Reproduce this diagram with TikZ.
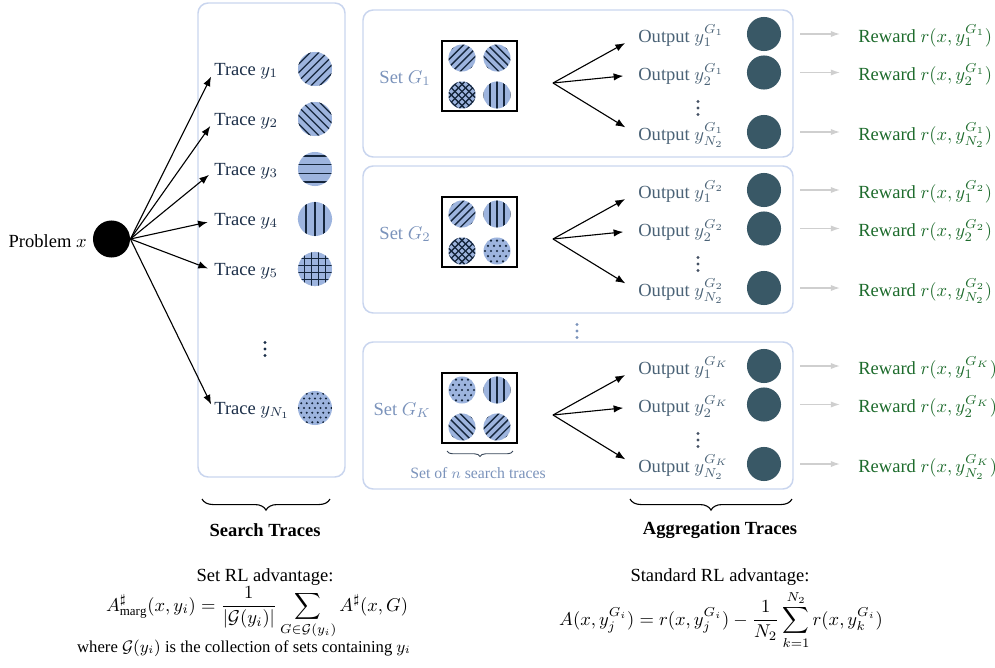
\documentclass[tikz,border=0pt]{standalone}
\usepackage{amsmath}
\usepackage{fontspec}
\setmainfont{Liberation Serif}
\usetikzlibrary{arrows.meta,decorations.pathreplacing}
\definecolor{boxc}{HTML}{C9D5EE}
\definecolor{tfill}{HTML}{9DB4DE}
\definecolor{pcol}{HTML}{15263C}
\definecolor{tracec}{HTML}{1B2E48}
\definecolor{outc}{HTML}{4A6276}
\definecolor{ocirc}{HTML}{395866}
\definecolor{setc}{HTML}{7B93BB}
\definecolor{rewc}{HTML}{1D6B2C}
\definecolor{grayarr}{HTML}{CFCFCF}
\newcommand\patlines[3]{% angle, spacing, offset
  \foreach \k in {-5,...,5}{\pgfmathsetmacro\dd{(\k+#3)*#2}%
    \draw[patl] ({-\dd*sin(#1)-40*cos(#1)},{\dd*cos(#1)-40*sin(#1)}) -- ({-\dd*sin(#1)+40*cos(#1)},{\dd*cos(#1)+40*sin(#1)});}}
\tikzset{
  box/.style={draw=boxc, line width=0.8pt, rounded corners=5.5pt},
  tc/.style={circle, fill=tfill, minimum size=18.4pt, inner sep=0pt},
  sc/.style={circle, fill=tfill, minimum size=14.6pt, inner sep=0pt},
  oc/.style={circle, fill=ocirc, minimum size=18.4pt, inner sep=0pt},
  sq/.style={draw=black, line width=0.7pt, minimum width=40.5pt, minimum height=37.8pt, inner sep=0pt},
  patl/.style={draw=pcol, line width=0.7pt},
  arr/.style={-{Latex[length=5.2pt,width=4pt]}, line width=0.6pt},
  garr/.style={draw=grayarr, -{Latex[length=5pt,width=3.4pt]}, line width=0.7pt, shorten <=10.3pt, shorten >=9.7pt},
  tl/.style={text=tracec, inner sep=0pt, anchor=base west},
  ol/.style={text=outc, inner sep=0pt, anchor=base west},
  rl/.style={text=rewc, inner sep=0pt, anchor=base west},
  setl/.style={text=setc, inner sep=0pt, anchor=base east},
  pL/.style n args={3}{path picture={\begin{scope}[shift={(path picture bounding box.center)}]
      \patlines{#1}{#2}{#3}\end{scope}}},
  pG/.style n args={3}{path picture={\begin{scope}[shift={(path picture bounding box.center)}]
      \patlines{#1}{#2}{#3}\patlines{#1+90}{#2}{#3}\end{scope}}},
  pD/.style={path picture={\begin{scope}[shift={(path picture bounding box.center)}]
      \foreach \i in {-5,...,5}{\foreach \j in {-5,...,5}{\fill[pcol] ({(\i+0.5*mod(abs(\j),2))*#1},{\j*#1*0.866}) circle[radius=0.65pt];}}\end{scope}}},
}
\newcommand\vdotsat[3]{\fill[#3] (#1,{#2-6.5}) circle[radius=0.85pt] (#1,#2) circle[radius=0.85pt] (#1,{#2+6.5}) circle[radius=0.85pt];}
\newcommand\setblock[7]{%
  \draw[box] (363,{10+#1}) rectangle (793,{157+#1});
  \node[setl] (s#2) at (431,{83+#1}) {Set $#3$};
  \node[sq] (q#2) at (479.5,{76+#1}) {};
  \node[sc,#4] (q#2a) at ([shift={(-17.5,-18)}]q#2.center) {};
  \node[sc,#5] (q#2b) at ([shift={(17.5,-18)}]q#2.center) {};
  \node[sc,#6] (q#2c) at ([shift={(-17.5,19)}]q#2.center) {};
  \node[sc,#7] (q#2d) at ([shift={(17.5,19)}]q#2.center) {};
  \coordinate (f#2) at (553,{83+#1});
  \node[ol] (o#2a) at (638,{42+#1}) {Output $y_1^{#3}$};
  \node[ol] (o#2b) at (638,{80.5+#1}) {Output $y_2^{#3}$};
  \node[ol] (o#2c) at (638,{140+#1}) {Output $y_{N_2}^{#3}$};
  \draw[arr, shorten >=8pt] (f#2) -- (o#2a.west);
  \draw[arr, shorten >=8pt] (f#2) -- (o#2b.west);
  \draw[arr, shorten >=8pt] (f#2) -- (o#2c.west);
  \vdotsat{698}{108+#1}{pcol!80}
  \node[oc] (c#2a) at (764,{34+#1}) {};
  \node[oc] (c#2b) at (764,{72.5+#1}) {};
  \node[oc] (c#2c) at (764,{132+#1}) {};
  \node[rl] (r#2a) at (858,{42+#1}) {Reward $r(x, y_1^{#3})$};
  \node[rl] (r#2b) at (858,{80.5+#1}) {Reward $r(x, y_2^{#3})$};
  \node[rl] (r#2c) at (858,{140+#1}) {Reward $r(x, y_{N_2}^{#3})$};
  \draw[garr] (c#2a) -- (c#2a -| r#2a.west);
  \draw[garr] (c#2b) -- (c#2b -| r#2b.west);
  \draw[garr] (c#2c) -- (c#2c -| r#2c.west);
}
\begin{document}
\begin{tikzpicture}[x=0.54pt,y=-0.54pt]
\useasboundingbox (0,0) rectangle (995,668);
% problem
\node[circle, fill=black, minimum size=20pt, inner sep=0pt] (p) at (111.5,239) {};
\node[anchor=base east, inner sep=0pt] (pl) at (87,247) {Problem $x$};
% search traces box
\draw[box] (198,3) rectangle (345,477);
\node[tl] (t1) at (214,75) {Trace $y_1$};
\node[tl] (t2) at (214,125) {Trace $y_2$};
\node[tl] (t3) at (214,175) {Trace $y_3$};
\node[tl] (t4) at (214,225) {Trace $y_4$};
\node[tl] (t5) at (214,275) {Trace $y_5$};
\node[tl] (tn) at (214,414) {Trace $y_{N_1}$};
\node[tc, pL={-45}{6}{0.5}] (tc1) at (315,69) {};
\node[tc, pL={45}{6}{0.5}] (tc2) at (315,119) {};
\node[tc, pL={0}{8.6}{0.5}] (tc3) at (315,169) {};
\node[tc, pL={90}{9}{0}] (tc4) at (315,219) {};
\node[tc, pG={0}{7}{0.5}] (tc5) at (315,269) {};
\node[tc, pD=5.5] (tcn) at (315,408) {};
\vdotsat{265}{349}{tracec}
\foreach \t in {t1,t2,t3,t4,t5,tn}{\draw[arr, shorten >=3.5pt] (p.east) -- (\t.west);}
% sets
\setblock{0}{1}{G_1}{pL={-45}{5.5}{0.5}}{pL={45}{5.5}{0.5}}{pG={45}{5}{0.5}}{pL={90}{7}{0}}
\setblock{156}{2}{G_2}{pL={-45}{5.5}{0.5}}{pL={90}{7}{0}}{pG={45}{5}{0.5}}{pD=6}
\setblock{332}{K}{G_K}{pD=6}{pL={90}{7}{0}}{pL={45}{5.5}{0.5}}{pL={-45}{5.5}{0.5}}
\vdotsat{577}{331}{setc}
\draw[decorate, decoration={brace, mirror, amplitude=3pt}, draw=pcol!85, line width=0.5pt] (447,451) -- (513,451);
\node[text=setc, font=\fontsize{8.5}{10}\selectfont, inner sep=0pt] (nt) at (478,473) {Set of $n$ search traces};
% bottom braces
\draw[decorate, decoration={brace, mirror, amplitude=6pt}, line width=0.6pt] (202,499) -- (330,499);
\draw[decorate, decoration={brace, mirror, amplitude=6pt}, line width=0.6pt] (630,499) -- (792,499);
\node[font=\bfseries, inner sep=0pt] (lst) at (265,530) {Search Traces};
\node[font=\bfseries, inner sep=0pt] (lat) at (720,530) {Aggregation Traces};
% formulas
\node[anchor=base, inner sep=0pt] (sr) at (265,581) {Set RL advantage:};
\node[anchor=base, inner sep=0pt] (sf) at (257,611) {$\displaystyle A^{\sharp}_{\mathrm{marg}}(x, y_i) = \frac{1}{|\mathcal{G}(y_i)|}\sum_{G\in\mathcal{G}(y_i)} A^{\sharp}(x,G)$};
\node[anchor=base, inner sep=0pt, font=\small] (sw) at (244,652) {where $\mathcal{G}(y_i)$ is the collection of sets containing $y_i$};
\node[anchor=base, inner sep=0pt] (tr) at (720,581) {Standard RL advantage:};
\node[anchor=base, inner sep=0pt] (tf) at (721,625) {$\displaystyle A(x, y_j^{G_i}) = r(x, y_j^{G_i}) - \frac{1}{N_2}\sum_{k=1}^{N_2} r(x, y_k^{G_i})$};
\end{tikzpicture}
\end{document}
